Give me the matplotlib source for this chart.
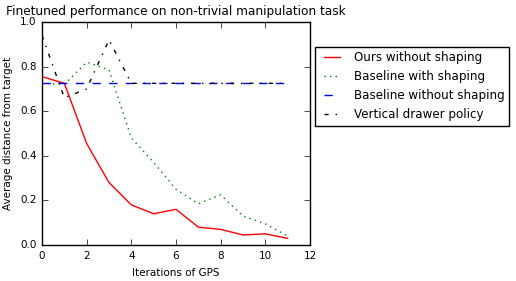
import numpy as np
import matplotlib
matplotlib.use('Agg')
import matplotlib.pyplot as plt

plt.style.use('classic')

iters = np.arange(12)
ours_no_shaping = [0.755, 0.725, 0.455, 0.28, 0.18, 0.14, 0.16, 0.08, 0.07, 0.045, 0.05, 0.03]
baseline_shaping = [0.725, 0.72, 0.82, 0.785, 0.48, 0.37, 0.25, 0.185, 0.225, 0.13, 0.095, 0.04]
baseline_no_shaping = [0.725] * 12
vertical_drawer = [0.94, 0.66, 0.70, 0.92, 0.725, 0.725, 0.725, 0.725, 0.725, 0.725, 0.725, 0.725]

fig = plt.figure(figsize=(5.16, 2.81), dpi=100)
fig.patch.set_facecolor('white')
ax = fig.add_axes([42 / 516, 36 / 281, 268 / 516, 223 / 281])

ax.plot(iters, ours_no_shaping, 'r-', label='Ours without shaping')
ax.plot(iters, baseline_shaping, 'g:', label='Baseline with shaping')
ax.plot(iters, baseline_no_shaping, 'b--', label='Baseline without shaping')
ax.plot(iters, vertical_drawer, 'k-.', label='Vertical drawer policy')

ax.set_xlim(0, 12)
ax.set_ylim(0, 1.0)
ax.tick_params(labelsize=7.5)
ax.set_xlabel('Iterations of GPS', fontsize=7.5)
ax.set_ylabel('Average distance from target', fontsize=7.5)
ax.set_title('Finetuned performance on non-trivial manipulation task', fontsize=8.7)

ax.legend(loc='upper left', bbox_to_anchor=(1.02, 0.89), fontsize=8.6,
          frameon=True, borderaxespad=0.0, handlelength=2.0)

fig.savefig('out.png', dpi=100)
